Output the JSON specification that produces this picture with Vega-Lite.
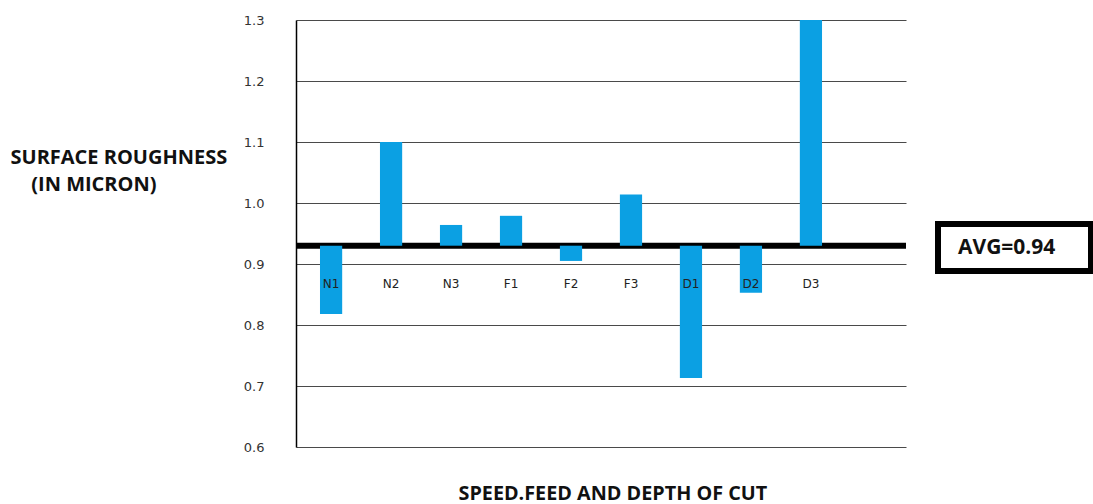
{
  "$schema": "https://vega.github.io/schema/vega-lite/v6.json",
  "width": 610,
  "height": 427,
  "autosize": {"type": "none"},
  "padding": {"left": 296, "top": 20, "right": 187, "bottom": 57},
  "background": "white",
  "config": {
    "view": {"stroke": null},
    "font": "Open Sans",
    "axisY": {
      "format": ".1f",
      "grid": true,
      "gridColor": "#4a4a4a",
      "gridWidth": 1.2,
      "gridOpacity": 1,
      "domainColor": "#000000",
      "domainWidth": 1.5,
      "tickSize": 0,
      "labelPadding": 32,
      "labelFont": "DejaVu Sans",
      "labelFontSize": 13,
      "labelColor": "#333333",
      "titleAngle": 0,
      "titleAlign": "left",
      "titleBaseline": "alphabetic",
      "titleX": -286,
      "titleY": 143,
      "titleFont": "Open Sans",
      "titleFontSize": 20,
      "titleFontWeight": "bold",
      "titleColor": "#111111",
      "titleLineHeight": 27
    },
    "legend": {"strokeWidth": 6}
  },
  "layer": [
    {
      "data": {"values": [{"label": "AVG=0.94", "avg": 0.93}]},
      "mark": {"type": "rule", "strokeWidth": 6},
      "encoding": {
        "y": {
          "field": "avg",
          "type": "quantitative",
          "scale": {"domain": [0.6, 1.3], "nice": false, "zero": false},
          "axis": {"values": [0.6, 0.7, 0.8, 0.9, 1.0, 1.1, 1.2, 1.3]},
          "title": ["SURFACE ROUGHNESS", "\u200b\u00a0\u00a0\u00a0\u00a0(IN MICRON)"]
        },
        "color": {
          "field": "label",
          "type": "nominal",
          "scale": {"range": ["#000000"]},
          "legend": {
            "orient": "none",
            "legendX": 642,
            "legendY": 204,
            "title": null,
            "strokeColor": "#000000",
            "padding": 13,
            "symbolSize": 0,
            "symbolStrokeWidth": 0,
            "symbolOpacity": 0,
            "labelOffset": -14,
            "labelFont": "Open Sans",
            "labelFontSize": 21,
            "labelFontWeight": "bold",
            "labelColor": "#111111",
            "labelExpr": "datum.label + '\u00a0\u00a0\u00a0\u00a0\u200b'"
          }
        }
      }
    },
    {
      "data": {
        "values": [
          {"run": "N1", "roughness": 0.818},
          {"run": "N2", "roughness": 1.100},
          {"run": "N3", "roughness": 0.964},
          {"run": "F1", "roughness": 0.979},
          {"run": "F2", "roughness": 0.905},
          {"run": "F3", "roughness": 1.014},
          {"run": "D1", "roughness": 0.713},
          {"run": "D2", "roughness": 0.853},
          {"run": "D3", "roughness": 1.300}
        ]
      },
      "layer": [
        {
          "mark": {"type": "bar", "color": "#0ba0e3"},
          "encoding": {
            "x": {
              "field": "run",
              "type": "nominal",
              "sort": null,
              "scale": {
                "domain": ["N1", "N2", "N3", "F1", "F2", "F3", "D1", "D2", "D3", "end"],
                "paddingInner": 0.63,
                "paddingOuter": 0.4
              },
              "axis": {
                "labels": false,
                "ticks": false,
                "domain": false,
                "title": "SPEED.FEED AND DEPTH OF CUT",
                "titleX": 162,
                "titleY": 52,
                "titleAlign": "left",
                "titleBaseline": "alphabetic",
                "titleFont": "Open Sans",
                "titleFontSize": 19.8,
                "titleFontWeight": "bold",
                "titleColor": "#111111"
              }
            },
            "y": {
              "field": "roughness",
              "type": "quantitative",
              "title": ["SURFACE ROUGHNESS", "\u200b\u00a0\u00a0\u00a0\u00a0(IN MICRON)"]
            },
            "y2": {"datum": 0.93}
          }
        },
        {
          "mark": {"type": "text", "font": "DejaVu Sans", "fontSize": 12, "color": "#222222", "baseline": "middle"},
          "encoding": {
            "x": {"field": "run", "type": "nominal", "sort": null},
            "y": {"datum": 0.867, "type": "quantitative", "title": ["SURFACE ROUGHNESS", "\u200b\u00a0\u00a0\u00a0\u00a0(IN MICRON)"]},
            "text": {"field": "run"}
          }
        }
      ]
    }
  ]
}
